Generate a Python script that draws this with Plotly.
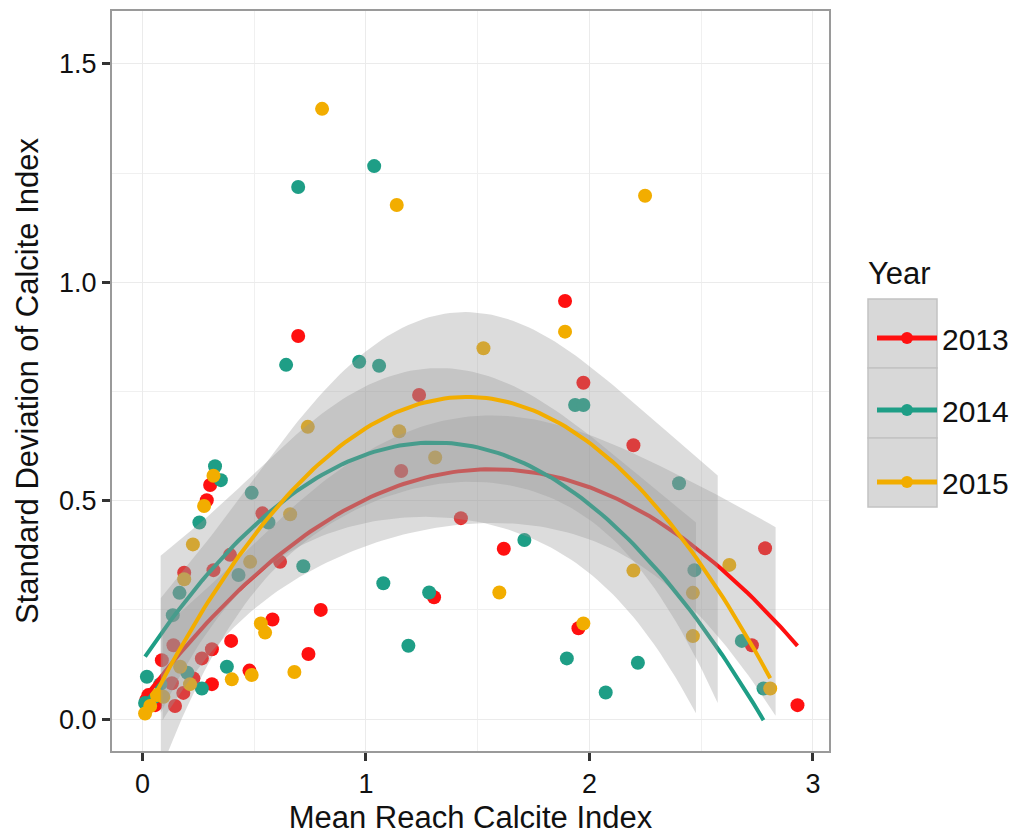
import numpy as np
import plotly.graph_objects as go

# ---------------- data ----------------
years = ["2013", "2014", "2015"]

x_2013 = [0.303, 0.288, 0.537, 0.392, 0.318, 0.616, 0.187, 0.798, 0.582, 0.397,
          0.311, 0.266, 0.743, 0.479, 0.311, 0.183, 0.146, 0.132, 0.139, 0.087,
          0.228, 0.027, 0.057, 0.697, 1.425, 1.617, 1.305, 1.951, 1.158, 1.891,
          1.238, 1.973, 2.197, 2.786, 2.727, 2.931, 0.017]
y_2013 = [0.536, 0.501, 0.471, 0.376, 0.341, 0.360, 0.335, 0.250, 0.228, 0.179,
          0.160, 0.139, 0.149, 0.111, 0.080, 0.060, 0.030, 0.082, 0.169, 0.135,
          0.093, 0.055, 0.032, 0.877, 0.460, 0.390, 0.279, 0.208, 0.568, 0.957,
          0.742, 0.770, 0.627, 0.391, 0.169, 0.032, 0.044]

x_2014 = [0.325, 0.351, 0.255, 0.489, 0.564, 0.430, 0.720, 0.166, 0.136, 0.378,
          0.266, 0.201, 0.012, 0.697, 1.037, 0.970, 1.059, 0.643, 1.078, 1.283,
          1.190, 1.709, 1.899, 1.936, 1.973, 2.073, 2.401, 2.217, 2.470, 2.682,
          2.779, 0.020, 0.050, 0.080]
y_2014 = [0.579, 0.547, 0.450, 0.518, 0.450, 0.330, 0.350, 0.289, 0.238, 0.120,
          0.070, 0.106, 0.037, 1.218, 1.266, 0.818, 0.809, 0.811, 0.311, 0.290,
          0.168, 0.410, 0.139, 0.719, 0.719, 0.061, 0.540, 0.129, 0.341, 0.179,
          0.070, 0.097, 0.050, 0.080]

x_2015 = [0.318, 0.276, 0.226, 0.661, 0.740, 0.482, 0.187, 0.530, 0.549, 0.489,
          0.400, 0.680, 0.213, 0.169, 0.012, 0.094, 0.804, 1.138, 2.249, 1.891,
          1.526, 1.310, 1.149, 1.597, 1.973, 2.197, 2.626, 2.463, 2.463, 2.809,
          0.035, 0.065]
y_2015 = [0.557, 0.488, 0.400, 0.469, 0.669, 0.360, 0.320, 0.219, 0.198, 0.101,
          0.091, 0.108, 0.080, 0.120, 0.013, 0.051, 1.397, 1.177, 1.198, 0.887,
          0.849, 0.599, 0.659, 0.290, 0.219, 0.340, 0.353, 0.289, 0.190, 0.070,
          0.030, 0.055]

# visible extent of each confidence ribbon in the reference
ribbon_from = [0.08, 0.08, 0.08]
ribbon_to = [2.85, 2.49, 2.59]

x_ticks = [0, 1, 2, 3]
y_ticks = [0.0, 0.5, 1.0, 1.5]

# ---------------- style ----------------
colors = ["#FF1010", "#1E9E86", "#F2AD00"]
ribbon_fill = "rgba(153,153,153,0.34)"
FONT = "Liberation Sans, Arial, Helvetica, sans-serif"

xs = [x_2013, x_2014, x_2015]
ys = [y_2013, y_2014, y_2015]


def t975(df):
    z = 1.959964
    return (z + (z**3 + z) / (4 * df) + (5 * z**5 + 16 * z**3 + 3 * z) / (96 * df**2)
            + (3 * z**7 + 19 * z**5 + 17 * z**3 - 15 * z) / (384 * df**3))


def quad_fit(x, y, grid):
    x = np.asarray(x, float)
    y = np.asarray(y, float)
    X = np.column_stack([np.ones_like(x), x, x**2])
    beta, *_ = np.linalg.lstsq(X, y, rcond=None)
    resid = y - X @ beta
    df = len(x) - 3
    s2 = resid @ resid / df
    cov = s2 * np.linalg.inv(X.T @ X)
    G = np.column_stack([np.ones_like(grid), grid, grid**2])
    fit = G @ beta
    se = np.sqrt(np.einsum("ij,jk,ik->i", G, cov, G))
    t = t975(df)
    return fit, fit - t * se, fit + t * se


fig = go.Figure()

# points first (ribbons are drawn over them)
for yr, x, y, c in zip(years, xs, ys, colors):
    fig.add_trace(go.Scatter(x=x, y=y, mode="markers",
                             marker=dict(color=c, size=14, line=dict(width=0)),
                             showlegend=False, hoverinfo="x+y", name=yr))

# ribbon + line per group, in group order
for i, (yr, x, y, c) in enumerate(zip(years, xs, ys, colors)):
    grid = np.linspace(min(x), max(x), 120)
    fit, lo, hi = quad_fit(x, y, grid)
    m = (grid >= ribbon_from[i]) & (grid <= ribbon_to[i])
    gx = grid[m]
    fig.add_trace(go.Scatter(x=np.concatenate([gx, gx[::-1]]),
                             y=np.concatenate([hi[m], lo[m][::-1]]),
                             fill="toself", fillcolor=ribbon_fill,
                             line=dict(width=0), mode="lines",
                             hoverinfo="skip", showlegend=False))
    fig.add_trace(go.Scatter(x=grid, y=fit, mode="lines",
                             line=dict(color=c, width=4),
                             showlegend=False, hoverinfo="skip"))

# legend entries
for yr, c in zip(years, colors):
    fig.add_trace(go.Scatter(x=[None], y=[None], mode="lines+markers",
                             line=dict(color=c, width=4),
                             marker=dict(color=c, size=12),
                             name=yr, legendgroup=yr, showlegend=True))

PLOT_L, PLOT_R, PLOT_T, PLOT_B = 112, 829, 11, 751
W, H = 1016, 835


def px2paper_x(px):
    return (px - PLOT_L) / (PLOT_R - PLOT_L)


def px2paper_y(py):
    return (PLOT_B - py) / (PLOT_B - PLOT_T)


# legend key boxes (grey, like the ribbon fill in ggplot keys)
shapes = []
for top, bot in [(299, 368), (368, 438), (438, 507)]:
    shapes.append(dict(type="rect", xref="paper", yref="paper",
                       x0=px2paper_x(868), x1=px2paper_x(937),
                       y0=px2paper_y(bot), y1=px2paper_y(top),
                       fillcolor="#d8d8d8", line=dict(color="#c2c2c2", width=1.5),
                       layer="above"))

annotations = [dict(text="Year", xref="paper", yref="paper",
                    x=px2paper_x(866), y=px2paper_y(273), xanchor="left", yanchor="middle",
                    showarrow=False, font=dict(size=31, family=FONT, color="#111"))]

fig.update_layout(
    width=W, height=H,
    margin=dict(l=PLOT_L, r=W - PLOT_R, t=PLOT_T, b=H - PLOT_B, pad=0, autoexpand=False),
    paper_bgcolor="white", plot_bgcolor="white",
    font=dict(family=FONT, color="#111111"),
    shapes=shapes,
    annotations=annotations,
    showlegend=True,
    legend=dict(x=px2paper_x(872), xanchor="left", y=px2paper_y(312), yanchor="top",
                bgcolor="rgba(0,0,0,0)", borderwidth=0,
                font=dict(size=30, family=FONT, color="#111"),
                itemwidth=60, tracegroupgap=30, itemsizing="constant"),
    xaxis=dict(range=[-0.136, 3.072], tickvals=x_ticks, ticktext=[str(v) for v in x_ticks],
               automargin=False,
               showgrid=True, gridcolor="#ebebeb", gridwidth=1.3,
               minor=dict(dtick=0.5, tick0=0, showgrid=True, gridcolor="#f0f0f0", gridwidth=1),
               zeroline=False, showline=True, linecolor="#9a9a9a", linewidth=2, mirror=True,
               ticks="outside", ticklen=8, tickwidth=2.5, tickcolor="#333",
               tickfont=dict(size=27, family=FONT, color="#111"),
               title=dict(text="Mean Reach Calcite Index", standoff=20,
                          font=dict(size=31, family=FONT, color="#111"))),
    yaxis=dict(range=[-0.073, 1.621], tickvals=y_ticks, ticktext=[f"{v:.1f}" for v in y_ticks],
               automargin=False,
               showgrid=True, gridcolor="#ebebeb", gridwidth=1.3,
               minor=dict(dtick=0.25, tick0=0, showgrid=True, gridcolor="#f0f0f0", gridwidth=1),
               zeroline=False, showline=True, linecolor="#9a9a9a", linewidth=2, mirror=True,
               ticks="outside", ticklen=8, tickwidth=2.5, tickcolor="#333",
               tickfont=dict(size=27, family=FONT, color="#111"),
               title=dict(text="Standard Deviation of Calcite Index", standoff=11,
                          font=dict(size=31, family=FONT, color="#111"))),
)

fig.write_html("out.html")
